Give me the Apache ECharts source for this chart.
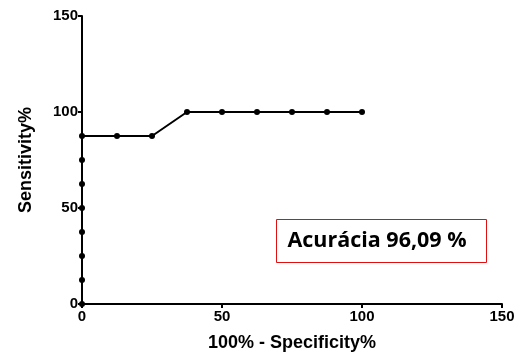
<!DOCTYPE html>
<html>
<head>
<meta charset="utf-8">
<script src="https://cdn.jsdelivr.net/npm/echarts@6/dist/echarts.min.js"></script>
<style>
  html, body { margin: 0; padding: 0; background: #fff; }
  #chart { width: 524px; height: 360px; }
</style>
</head>
<body>
<div id="chart"></div>
<script>
// 100% - Specificity% (x) and Sensitivity% (y)
const specificity = [0, 0, 0, 0, 0, 0, 0, 0, 12.5, 25, 37.5, 50, 62.5, 75, 87.5, 100];
const sensitivity = [0, 12.5, 25, 37.5, 50, 62.5, 75, 87.5, 87.5, 87.5, 100, 100, 100, 100, 100, 100];
const axisTicks = [0, 50, 100, 150];
const accuracyLabel = 'Acurácia 96,09 %';

const points = specificity.map((x, i) => [x, sensitivity[i]]);

const chart = echarts.init(document.getElementById('chart'));
const labelStyle = {
    color: '#000',
    fontFamily: 'Liberation Sans, Arial, sans-serif',
    fontWeight: 'bold',
    fontSize: 15
};
const nameStyle = {
    color: '#000',
    fontFamily: 'Liberation Sans, Arial, sans-serif',
    fontWeight: 'bold',
    fontSize: 18
};

chart.setOption({
    animation: false,
    grid: { left: 82, right: 22, top: 16, bottom: 56 },
    xAxis: {
        type: 'value',
        min: axisTicks[0],
        max: axisTicks[axisTicks.length - 1],
        interval: 50,
        splitLine: { show: false },
        axisLine: { show: true, lineStyle: { color: '#000', width: 2 } },
        axisTick: { show: true, length: 4, lineStyle: { color: '#000', width: 2 } },
        axisLabel: Object.assign({ margin: 5 }, labelStyle),
        name: '100% - Specificity%',
        nameLocation: 'middle',
        nameGap: 30,
        nameTextStyle: nameStyle
    },
    yAxis: {
        type: 'value',
        min: axisTicks[0],
        max: axisTicks[axisTicks.length - 1],
        interval: 50,
        splitLine: { show: false },
        axisLine: { show: true, lineStyle: { color: '#000', width: 2 } },
        axisTick: { show: true, length: 4, lineStyle: { color: '#000', width: 2 } },
        axisLabel: Object.assign({ margin: 4 }, labelStyle),
        name: 'Sensitivity%',
        nameLocation: 'middle',
        nameGap: 47,
        nameTextStyle: nameStyle
    },
    series: [{
        type: 'line',
        data: points,
        symbol: 'circle',
        symbolSize: 6,
        itemStyle: { color: '#000' },
        lineStyle: { color: '#000', width: 2 }
    }],
    graphic: [
        {
            type: 'rect',
            shape: { x: 276.5, y: 219.5, width: 210, height: 43 },
            style: { fill: '#fff', stroke: '#e01010', lineWidth: 1 }
        },
        {
            type: 'text',
            x: 377,
            y: 241,
            style: {
                text: accuracyLabel,
                fill: '#000',
                font: 'bold 21.5px "Open Sans", "Noto Sans", sans-serif',
                align: 'center',
                verticalAlign: 'middle'
            }
        }
    ]
});
window.addEventListener('resize', chart.resize);
</script>
</body>
</html>
